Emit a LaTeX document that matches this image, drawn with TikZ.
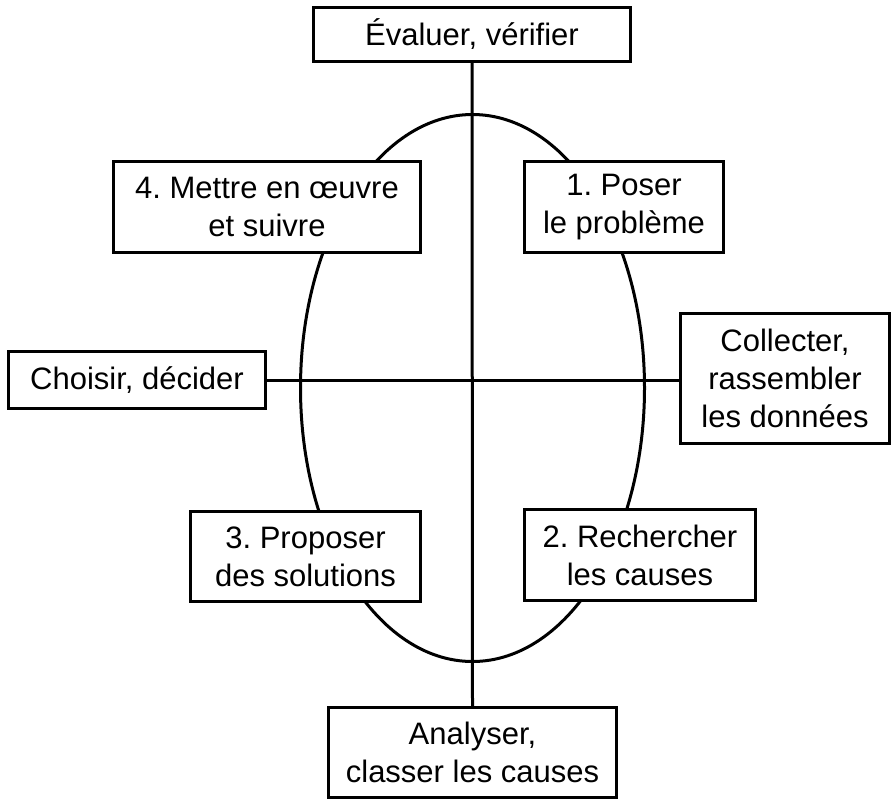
\documentclass[tikz,border=0pt]{standalone}
\usepackage{fontspec}
\setmainfont{Liberation Sans}
\usetikzlibrary{backgrounds}
\frenchspacing
\begin{document}
\begin{tikzpicture}[x=1pt,y=-1pt,
  box/.style={draw=black, line width=3pt, fill=white, align=center, inner sep=0pt,
    font=\fontsize{31pt}{38pt}\selectfont},
  link/.style={draw=black, line width=3pt}]
\useasboundingbox (0,0) rectangle (894,801);
\node[box, minimum width=317pt, minimum height=54pt] (top) at (472,34.5) {Évaluer, vérifier};
\node[box, minimum width=288pt, minimum height=90pt] (bottom) at (472.5,752.5) {Analyser,\\classer les causes};
\node[box, minimum width=257pt, minimum height=57pt] (left) at (137,380) {Choisir, décider};
\node[box, minimum width=209pt, minimum height=130pt] (right) at (785,378.5) {Collecter,\\rassembler\\les données};
\node[box, minimum width=307pt, minimum height=91pt] (b4) at (267,207) {4. Mettre en œuvre\\et suivre};
\node[box, minimum width=199pt, minimum height=91pt] (b1) at (624,207) {1. Poser\\le problème};
\node[box, minimum width=230pt, minimum height=90pt] (b3) at (305.5,556.5) {3. Proposer\\des solutions};
\node[box, minimum width=231pt, minimum height=91pt] (b2) at (640,555) {2. Rechercher\\les causes};
\coordinate (cycle) at (472.5,388);
\begin{scope}[on background layer]
  \draw[link] (cycle) ellipse (172pt and 273.5pt);
  \draw[link] (top.south) -- (bottom.north);
  \draw[link] (left.east) -- (left.east -| right.west);
\end{scope}
\end{tikzpicture}
\end{document}
